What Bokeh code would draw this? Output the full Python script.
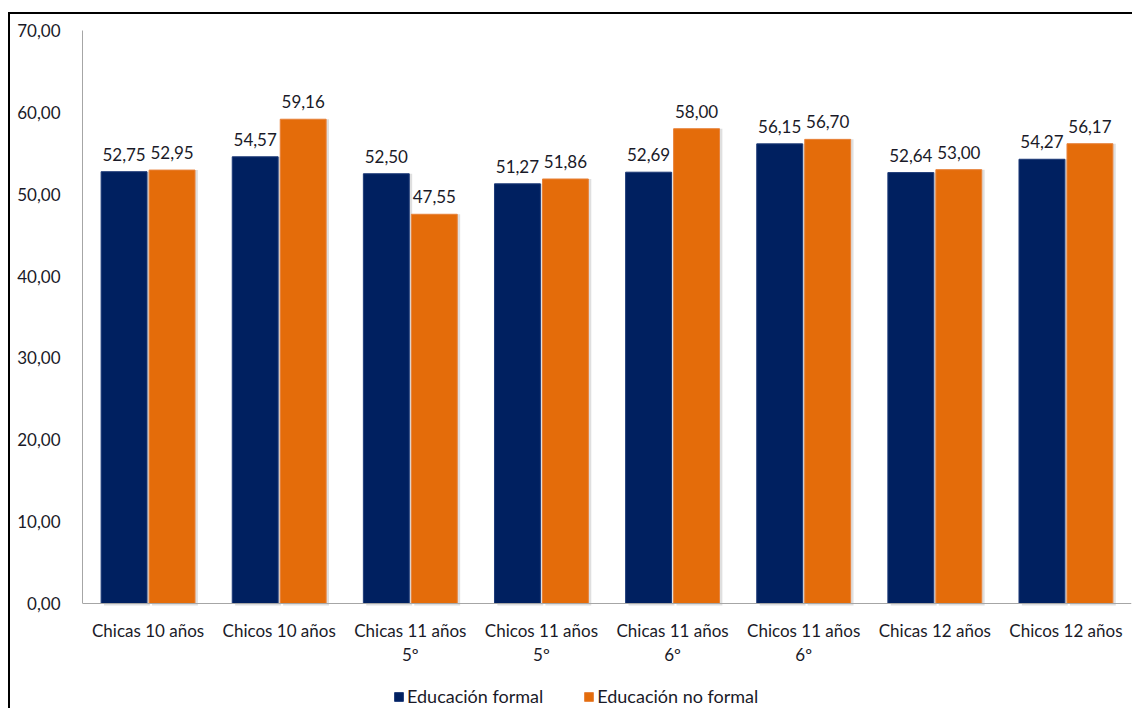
from bokeh.plotting import figure
from bokeh.models import (ColumnDataSource, Range1d, FactorRange, FixedTicker,
                          Legend, LegendItem, LabelSet)
from bokeh.transform import dodge
from bokeh.core.properties import value
from bokeh.embed import file_html
from bokeh.resources import INLINE

categories = ["Chicas 10 años", "Chicos 10 años", "Chicas 11 años\n5º", "Chicos 11 años\n5º",
              "Chicas 11 años\n6º", "Chicos 11 años\n6º", "Chicas 12 años", "Chicos 12 años"]
formal = [52.75, 54.57, 52.50, 51.27, 52.69, 56.15, 52.64, 54.27]
no_formal = [52.95, 59.16, 47.55, 51.86, 58.00, 56.70, 53.00, 56.17]
series_names = ["Educación formal", "Educación no formal"]
y_ticks = [0, 10, 20, 30, 40, 50, 60, 70]

NAVY = "#002060"
ORANGE = "#E46C0A"
TXT = "#1a1a28"
FONT = "Lato"
FS = "17px"

def fmt(v):
    return f"{v:.2f}".replace(".", ",")

src = ColumnDataSource(dict(
    cat=categories,
    formal=formal,
    no_formal=no_formal,
    lf=[fmt(v) for v in formal],
    lnf=[fmt(v) for v in no_formal],
))

# frame runs from y=30 down to the window bottom (708); value 0 sits at y=603
Y_MAX = 70
PX_PER_UNIT = 573 / Y_MAX
Y_MIN = -105 / PX_PER_UNIT

p = figure(frame_width=1049, frame_height=678, output_backend="svg", toolbar_location=None,
           x_range=FactorRange(*categories, range_padding=0), y_range=Range1d(Y_MIN, Y_MAX),
           min_border_left=82, min_border_right=1, min_border_top=30, min_border_bottom=0)
p.outline_line_color = None
p.xgrid.grid_line_color = None
p.ygrid.grid_line_color = None
p.background_fill_color = "white"
p.border_fill_color = None
p.border_fill_alpha = 0
p.styles = {"background": "linear-gradient(#000,#000) 8px 12px / 2px 100% no-repeat, "
                          "linear-gradient(#000,#000) 8px 12px / 100% 2px no-repeat, #ffffff"}

off = 0.183
w = 0.35
sh = 0.022
# shadows
p.vbar(x=dodge("cat", -off + sh, range=p.x_range), top="formal", bottom=-0.25, width=w, source=src,
       fill_color="#b0b0b0", fill_alpha=0.4, line_color=None)
p.vbar(x=dodge("cat", off + sh, range=p.x_range), top="no_formal", bottom=-0.25, width=w, source=src,
       fill_color="#b0b0b0", fill_alpha=0.4, line_color=None)
r1 = p.vbar(x=dodge("cat", -off, range=p.x_range), top="formal", width=w, source=src,
            fill_color=NAVY, line_color="#1d3a78", line_width=1)
r2 = p.vbar(x=dodge("cat", off, range=p.x_range), top="no_formal", width=w, source=src,
            fill_color=ORANGE, line_color="#e8823a", line_width=1)

for col, lab, dx in (("formal", "lf", -off), ("no_formal", "lnf", off)):
    ls = LabelSet(x=dodge("cat", dx, range=p.x_range), y=col, text=lab, source=src,
                  text_align="center", text_baseline="bottom", y_offset=11,
                  text_font=value(FONT), text_font_size=value(FS), text_color=TXT)
    p.add_layout(ls)

p.yaxis.ticker = FixedTicker(ticks=y_ticks)
p.yaxis.bounds = (0, Y_MAX)
p.yaxis.major_label_overrides = {t: f"{t},00" for t in y_ticks}
p.yaxis.major_tick_line_color = None
p.yaxis.minor_tick_line_color = None
p.yaxis.axis_line_color = "#a6a6a6"
p.yaxis.major_label_standoff = 16
p.yaxis.major_label_text_font = FONT
p.yaxis.major_label_text_font_size = FS
p.yaxis.major_label_text_color = TXT

p.xaxis.fixed_location = 0
p.xaxis.major_tick_line_color = None
p.xaxis.axis_line_color = "#a6a6a6"
p.xaxis.major_label_standoff = 10
p.xaxis.major_label_text_font = FONT
p.xaxis.major_label_text_font_size = FS
p.xaxis.major_label_text_color = TXT
p.xaxis.major_label_text_line_height = 1.15

legend = Legend(items=[LegendItem(label=series_names[0], renderers=[r1]),
                       LegendItem(label=series_names[1], renderers=[r2])],
                orientation="horizontal", location=(311, 1),
                label_text_font=FONT, label_text_font_size="18px", label_text_color=TXT,
                glyph_width=11, glyph_height=11, label_height=18, spacing=40,
                padding=4, margin=0, label_standoff=3,
                border_line_color=None, background_fill_alpha=0)
p.add_layout(legend, "center")

open("out.html", "w").write(file_html(p, INLINE))
